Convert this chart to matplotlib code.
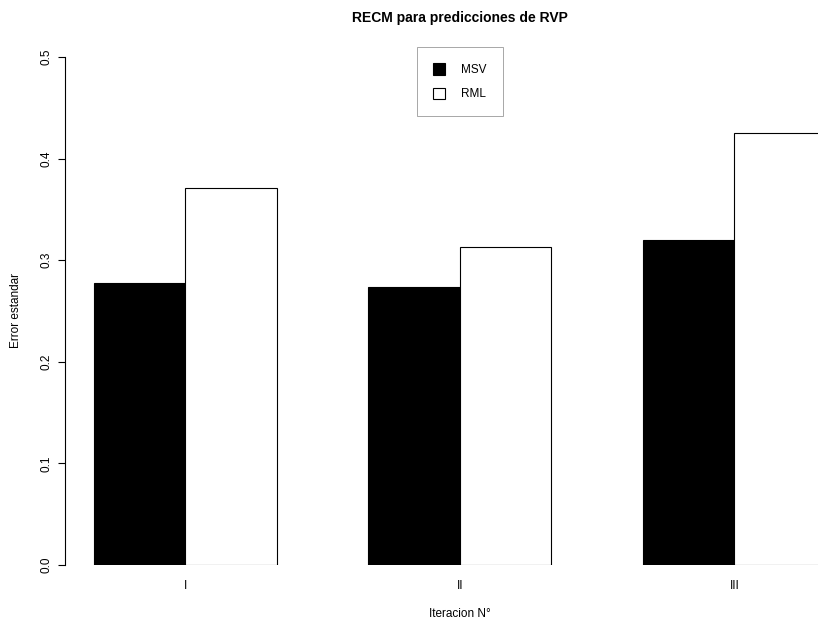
import matplotlib
matplotlib.use("Agg")
import matplotlib.pyplot as plt
import numpy as np

plt.rcParams['font.family'] = ['Liberation Sans', 'DejaVu Sans']

# RMSE of the RVP predictions for each iteration
iteraciones = ["I", "II", "III"]
msv = [0.278, 0.274, 0.320]
rml = [0.371, 0.313, 0.4255]
series_names = ["MSV", "RML"]
y_ticks = [0.0, 0.1, 0.2, 0.3, 0.4, 0.5]

W, H, DPI = 818, 624, 100
fig = plt.figure(figsize=(W / DPI, H / DPI), dpi=DPI)
fig.patch.set_facecolor("white")

# plot region (R-style: x range padded by 4%, y range exact)
left_px, unit_px = 64.7, 91.5
xlim = (0.68, 9.32)
width_px = (xlim[1] - xlim[0]) * unit_px
bottom_px, top_px = 565, 57
ax = fig.add_axes([left_px / W, (H - bottom_px) / H,
                   width_px / W, (bottom_px - top_px) / H])

# grouped bars: each group holds two unit-wide bars, one unit gap between groups
group_start = 1 + 3 * np.arange(len(iteraciones))
b1 = ax.bar(group_start, msv, width=1.0, align="edge",
            color="black", edgecolor="black", linewidth=0.8, label=series_names[0])
b2 = ax.bar(group_start + 1, rml, width=1.0, align="edge",
            color="white", edgecolor="black", linewidth=0.8, label=series_names[1])

ax.set_xlim(*xlim)
ax.set_ylim(0, 0.5)

for s in ["top", "right", "bottom"]:
    ax.spines[s].set_visible(False)
ax.spines["left"].set_linewidth(0.8)
ax.spines["left"].set_bounds(0, 0.5)

ax.set_yticks(y_ticks)
ax.set_yticklabels([f"{v:.1f}" for v in y_ticks], rotation=90, va="center")
ax.tick_params(axis="y", direction="out", length=5, width=0.8, pad=4, labelsize=8.5)

ax.set_xticks(group_start + 1)
ax.set_xticklabels(iteraciones)
ax.tick_params(axis="x", length=0, pad=11, labelsize=8.5)

ax.set_xlabel("Iteracion N°", fontsize=8.5, labelpad=11)
ax.set_ylabel("Error estandar", fontsize=8.5, labelpad=13)
ax.set_title("RECM para predicciones de RVP", fontsize=10,
             fontweight="bold", pad=25)

leg = ax.legend(handles=[b1, b2], loc="upper left",
                bbox_to_anchor=(417 / W, 1 - 47 / H), bbox_transform=fig.transFigure,
                borderaxespad=0, fontsize=8.5, handlelength=1.05, handleheight=1.15,
                handletextpad=1.35, borderpad=1.35, labelspacing=1.0,
                fancybox=False, framealpha=1, edgecolor="#999999")
leg.get_frame().set_linewidth(0.6)

fig.savefig("out.png", dpi=DPI)
